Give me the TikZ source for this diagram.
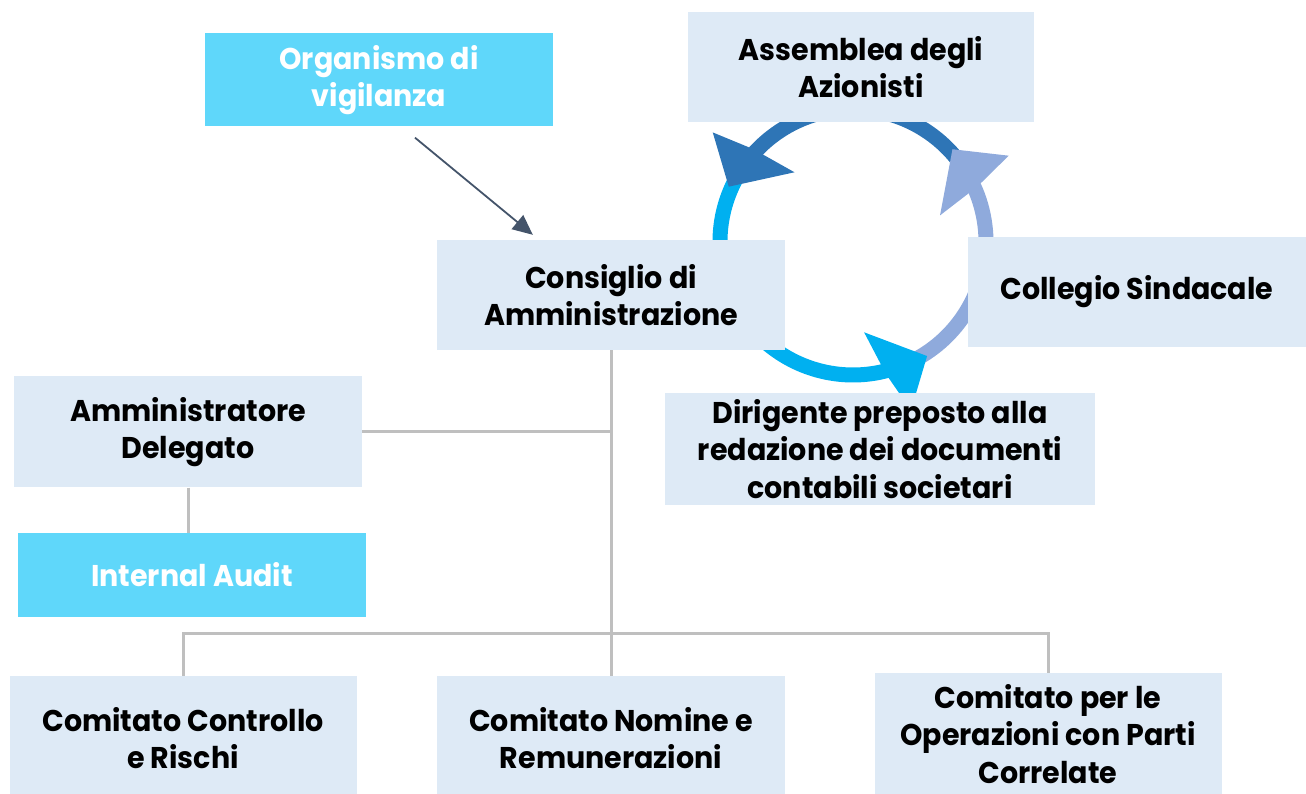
\documentclass[tikz,border=0pt]{standalone}
\usepackage{fontspec}
\setmainfont{Poppins}[FakeStretch=0.95]
\usetikzlibrary{arrows.meta}
\definecolor{boxfill}{HTML}{DEEAF6}
\definecolor{odvfill}{HTML}{5FD7FA}
\definecolor{linegray}{HTML}{BFBFBF}
\definecolor{arrowdark}{HTML}{44546A}
\definecolor{cycdark}{HTML}{2E75B6}
\definecolor{cyccyan}{HTML}{00B0F0}
\definecolor{cyclight}{HTML}{8FAADC}
% head of one of the cycle arrows, #1 = angle of the tip
\newcommand{\cyclehead}[2]{\fill[#2] (#1:136pt) -- (#1-14:178pt) -- (#1-19:136pt) -- (#1-26:91pt) -- cycle;}
\begin{document}
\begin{tikzpicture}[x=1pt, y=1pt,
    box/.style={fill=boxfill, inner sep=0pt, align=center, font=\fontsize{30}{37.5}\selectfont\bfseries},
    hbox/.style={box, fill=odvfill, text=white},
    link/.style={draw=linegray, line width=3pt},
    band/.style={line width=15pt}]
    \useasboundingbox (0,0) rectangle (1306,794);

    % cycle
    \begin{scope}[shift={(853,552)}]
        \draw[band, cycdark] (35:133pt) arc[start angle=35, end angle=142, radius=133pt];
        \draw[band, cyccyan] (148:133pt) arc[start angle=148, end angle=290, radius=133pt];
        \draw[band, cyclight] (296:133pt) arc[start angle=296, end angle=392, radius=133pt];
        \cyclehead{156}{cycdark}
        \cyclehead{303}{cyccyan}
        \cyclehead{43}{cyclight}
    \end{scope}

    \node[hbox, minimum width=348, minimum height=93] (odv) at (379,714) {Organismo di\\vigilanza};
    \node[box, minimum width=346, minimum height=110] (ass) at (861,727) {Assemblea degli\\Azionisti};
    \node[box, minimum width=348, minimum height=110] (cda) at (611,499) {Consiglio di\\Amministrazione};
    \node[box, minimum width=338, minimum height=110] (col) at (1137,502) {Collegio Sindacale};
    \node[box, minimum width=430, minimum height=112] (dir) at (880,345) {Dirigente preposto alla\\redazione dei documenti\\contabili societari};
    \node[box, minimum width=348, minimum height=111] (ad) at (188,362) {Amministratore\\Delegato};
    \node[hbox, minimum width=348, minimum height=84] (ia) at (192,219) {Internal Audit};
    \node[box, minimum width=347, minimum height=124] (ccr) at (183,56) {Comitato Controllo\\e Rischi};
    \node[box, minimum width=348, minimum height=124] (cnr) at (611,56) {Comitato Nomine e\\Remunerazioni};
    \node[box, minimum width=347, minimum height=121] (cop) at (1048,60) {Comitato per le\\Operazioni con Parti\\Correlate};

    \coordinate (odvout) at ([xshift=36, yshift=-11]odv.south);
    \coordinate (cdain) at ([xshift=96, yshift=5]cda.north west);
    \draw[arrowdark, line width=1.8pt, -{Triangle[length=20pt, width=18pt]}] (odvout) -- (cdain);

    \draw[link] (cda.south) -- (cnr.north);
    \draw[link] (ad.east) -- (ad.east -| cda.south);
    \draw[link] (ad.south) -- (ad.south |- ia.north);
    \draw[link] (ccr.north) -- ++(0,42) -| (cop.north);
\end{tikzpicture}
\end{document}
